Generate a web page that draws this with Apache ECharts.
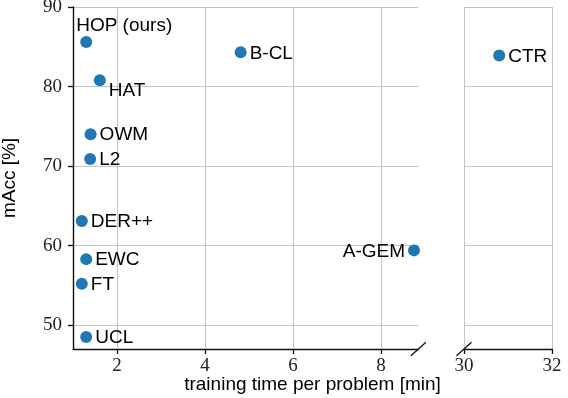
<!DOCTYPE html>
<html>
<head>
<meta charset="utf-8">
<script src="https://cdn.jsdelivr.net/npm/echarts@6/dist/echarts.min.js"></script>
<style>
  html, body { margin: 0; padding: 0; background: #fff; }
  #chart { width: 568px; height: 398px; }
</style>
</head>
<body>
<div id="chart"></div>
<script>
// values
const methods   = ['HOP (ours)', 'HAT', 'OWM', 'L2', 'DER++', 'EWC', 'FT', 'UCL', 'B-CL', 'A-GEM', 'CTR'];
const trainTime = [1.30, 1.61, 1.40, 1.39, 1.20, 1.30, 1.20, 1.30, 4.81, 8.75, 30.80];
const mAcc      = [85.6, 80.8, 74.0, 70.9, 63.1, 58.3, 55.2, 48.5, 84.3, 59.4, 83.9];

const yTicks      = [50, 60, 70, 80, 90];
const xTicksLeft  = [2, 4, 6, 8];
const xTicksRight = [30, 32];

const yRange      = [47, 90];
const xRangeLeft  = [1, 8.85];
const xRangeRight = [30, 32];

const blue = '#1f77b4';
const gridGray = '#c4c4c4';
const axisBlack = '#111';
const serif = 'Liberation Serif';
const sans = 'Liberation Sans';

// where each label sits relative to its dot (default: right)
const labelPlace = {
    'HOP (ours)': { position: 'top', offset: [38, 2] },
    'HAT': { position: 'right', offset: [0, 11] },
    'A-GEM': { position: 'left', offset: [0, 1] }
};

function makeItem(i) {
    const lp = labelPlace[methods[i]] || { position: 'right', offset: [0, 1] };
    return {
        name: methods[i],
        value: [trainTime[i], mAcc[i]],
        label: { position: lp.position, offset: lp.offset }
    };
}

const leftData = [], rightData = [];
methods.forEach((m, i) => {
    if (trainTime[i] <= xRangeLeft[1]) leftData.push(makeItem(i));
    else rightData.push(makeItem(i));
});

function xAxisCfg(gridIndex, range, ticks) {
    return {
        type: 'value',
        gridIndex: gridIndex,
        min: range[0],
        max: range[1],
        axisLine: { show: true, onZero: false, lineStyle: { color: axisBlack, width: 1.4 } },
        axisTick: { show: true, length: 5, customValues: ticks, lineStyle: { color: axisBlack, width: 1.3 } },
        axisLabel: { customValues: ticks, margin: 8, fontFamily: serif, fontSize: 19, color: '#222' },
        splitLine: { show: true, lineStyle: { color: gridGray, width: 1 } }
    };
}

function yAxisCfg(gridIndex, showAxis) {
    return {
        type: 'value',
        gridIndex: gridIndex,
        min: yRange[0],
        max: yRange[1],
        name: showAxis ? 'mAcc [%]' : '',
        nameLocation: 'middle',
        nameGap: 54,
        nameTextStyle: { fontFamily: sans, fontSize: 19, color: '#000' },
        axisLine: { show: showAxis, lineStyle: { color: axisBlack, width: 1.4 } },
        axisTick: { show: showAxis, length: 5, customValues: yTicks, lineStyle: { color: axisBlack, width: 1.3 } },
        axisLabel: { show: showAxis, customValues: yTicks, margin: 11, fontFamily: serif, fontSize: 19, color: '#222' },
        splitLine: { show: true, lineStyle: { color: gridGray, width: 1 } }
    };
}

const seriesBase = {
    type: 'scatter',
    symbolSize: 12,
    itemStyle: { color: blue, opacity: 1 },
    label: {
        show: true,
        formatter: '{b}',
        distance: 3,
        fontFamily: sans,
        fontSize: 19,
        color: '#000'
    },
    emphasis: { disabled: true },
    clip: false
};

const chart = echarts.init(document.getElementById('chart'));
chart.setOption({
    animation: false,
    grid: [
        { left: 73, top: 7, width: (xRangeLeft[1] - xRangeLeft[0]) * 44, height: 342, outerBoundsMode: 'none' },
        { left: 464, top: 7, width: 88, height: 342, outerBoundsMode: 'none' }
    ],
    xAxis: [
        xAxisCfg(0, xRangeLeft, xTicksLeft),
        xAxisCfg(1, xRangeRight, xTicksRight)
    ],
    yAxis: [
        yAxisCfg(0, true),
        yAxisCfg(1, false)
    ],
    series: [
        Object.assign({}, seriesBase, { xAxisIndex: 0, yAxisIndex: 0, data: leftData }),
        Object.assign({}, seriesBase, { xAxisIndex: 1, yAxisIndex: 1, data: rightData })
    ]
});

// break marks and the shared x-axis title
const pL = chart.convertToPixel({ gridIndex: 0 }, [xRangeLeft[1], yRange[0]]);
const pR = chart.convertToPixel({ gridIndex: 1 }, [xRangeRight[0], yRange[0]]);
const pEnd = chart.convertToPixel({ gridIndex: 1 }, [xRangeRight[1], yRange[0]]);
const pStart = chart.convertToPixel({ gridIndex: 0 }, [xRangeLeft[0], yRange[0]]);

function slash(p) {
    return {
        type: 'line',
        shape: { x1: p[0] - 7.5, y1: p[1] + 6.7, x2: p[0] + 7.5, y2: p[1] - 6.7 },
        style: { stroke: axisBlack, lineWidth: 1.3 },
        silent: true
    };
}

chart.setOption({
    graphic: [
        slash(pL),
        slash(pR),
        {
            type: 'text',
            x: (pStart[0] + pEnd[0]) / 2,
            y: 385,
            style: {
                text: 'training time per problem [min]',
                font: '19px "Liberation Sans"',
                fill: '#000',
                align: 'center',
                verticalAlign: 'middle'
            },
            silent: true
        }
    ]
});
</script>
</body>
</html>
